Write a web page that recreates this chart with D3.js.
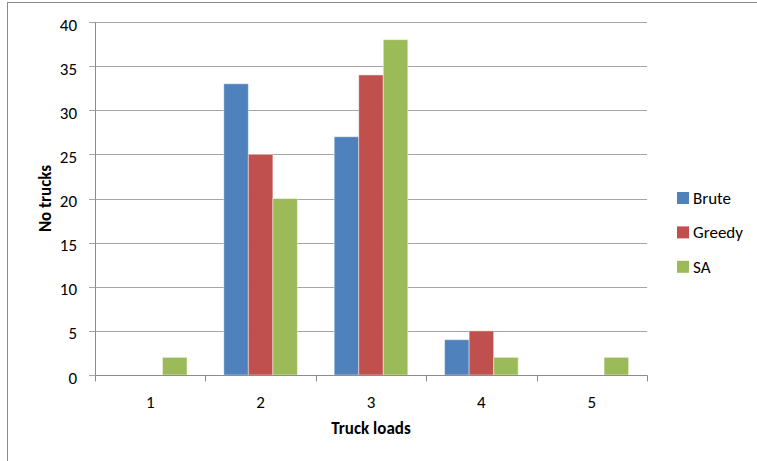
<!DOCTYPE html>
<html>
<head>
<meta charset="utf-8">
<script src="https://cdn.jsdelivr.net/npm/d3@7"></script>
<style>
  body { margin: 0; background: #fff; }
  text { font-family: Carlito, "Liberation Sans", Arial, sans-serif; }
</style>
</head>
<body>
<div id="chart"></div>
<script>
// chart data
const categories = ['1', '2', '3', '4', '5']
const seriesNames = ['Brute', 'Greedy', 'SA']
const brute = [0, 33, 27, 4, 0]
const greedy = [0, 25, 34, 5, 0]
const sa = [2, 20, 38, 2, 2]
const yTicks = [0, 5, 10, 15, 20, 25, 30, 35, 40]
const colors = ['#4F81BD', '#C0504D', '#9BBB59']

const seriesValues = [brute, greedy, sa]
const width = 757, height = 461
const plot = {left: 95, right: 647, top: 22, bottom: 375}

const svg = d3.select('#chart').append('svg')
  .attr('width', width)
  .attr('height', height)

// outer chart border
svg.append('rect')
  .attr('x', 7.5).attr('y', 2.5)
  .attr('width', 760).attr('height', 470)
  .attr('fill', 'none')
  .attr('stroke', '#8c8c8c')

const xScale = d3.scaleBand()
  .domain(categories)
  .range([plot.left, plot.right])
  .paddingInner(0).paddingOuter(0)
const yScale = d3.scaleLinear()
  .domain([0, 40])
  .range([plot.bottom, plot.top])

const barW = xScale.bandwidth() / 4.5  // gap width 150%

// gridlines
svg.append('g').selectAll('line').data(yTicks)
  .enter().append('line')
  .attr('x1', plot.left - 6).attr('x2', plot.right)
  .attr('y1', d => Math.round(yScale(d)) + 0.5)
  .attr('y2', d => Math.round(yScale(d)) + 0.5)
  .attr('stroke', '#a6a6a6')

// bars
seriesValues.forEach((vals, s) => {
  svg.append('g').selectAll('rect').data(vals)
    .enter().append('rect')
    .attr('x', (d, i) => xScale(categories[i]) + xScale.bandwidth() / 2 + (s - 1.5) * barW)
    .attr('y', d => yScale(d))
    .attr('width', barW)
    .attr('height', d => yScale(0) - yScale(d))
    .attr('fill', colors[s])
    .attr('stroke', d => d > 0 ? 'rgba(255,255,255,0.45)' : 'none')
    .attr('stroke-width', 1)
})

// axes
const yAxisX = plot.left + 0.5
svg.append('line')
  .attr('x1', yAxisX).attr('x2', yAxisX)
  .attr('y1', plot.top).attr('y2', plot.bottom)
  .attr('stroke', '#8c8c8c')
const x0 = Math.round(yScale(0)) + 0.5
svg.append('line')
  .attr('x1', plot.left).attr('x2', plot.right + 0.5)
  .attr('y1', x0).attr('y2', x0)
  .attr('stroke', '#8c8c8c')
const xTickPos = categories.map(c => xScale(c)).concat([plot.right])
svg.append('g').selectAll('line').data(xTickPos)
  .enter().append('line')
  .attr('x1', d => Math.round(d) + 0.5).attr('x2', d => Math.round(d) + 0.5)
  .attr('y1', x0).attr('y2', x0 + 6)
  .attr('stroke', '#8c8c8c')

// tick labels
svg.append('g').selectAll('text').data(yTicks)
  .enter().append('text')
  .text(d => d)
  .attr('x', 77)
  .attr('y', d => yScale(d) + 8.5)
  .attr('text-anchor', 'end')
  .style('font-size', '17px')
  .attr('fill', '#000')
svg.append('g').selectAll('text').data(categories)
  .enter().append('text')
  .text(d => d)
  .attr('x', d => xScale(d) + xScale.bandwidth() / 2)
  .attr('y', 408)
  .attr('text-anchor', 'middle')
  .style('font-size', '17px')

// axis titles
svg.append('text')
  .text('Truck loads')
  .attr('x', (plot.left + plot.right) / 2)
  .attr('y', 434)
  .attr('text-anchor', 'middle')
  .style('font-size', '17px')
  .style('font-weight', 'bold')
svg.append('text')
  .text('No trucks')
  .attr('transform', `translate(51, ${(plot.top + plot.bottom) / 2}) rotate(-90)`)
  .attr('text-anchor', 'middle')
  .style('font-size', '17px')
  .style('font-weight', 'bold')

// legend
const legend = svg.append('g').selectAll('g').data(seriesNames)
  .enter().append('g')
  .attr('transform', (d, i) => `translate(677, ${192 + i * 34.4})`)
legend.append('rect')
  .attr('width', 12).attr('height', 12)
  .attr('fill', (d, i) => colors[i])
legend.append('text')
  .text(d => d)
  .attr('x', 16)
  .attr('y', 12)
  .style('font-size', '17px')
</script>
</body>
</html>
